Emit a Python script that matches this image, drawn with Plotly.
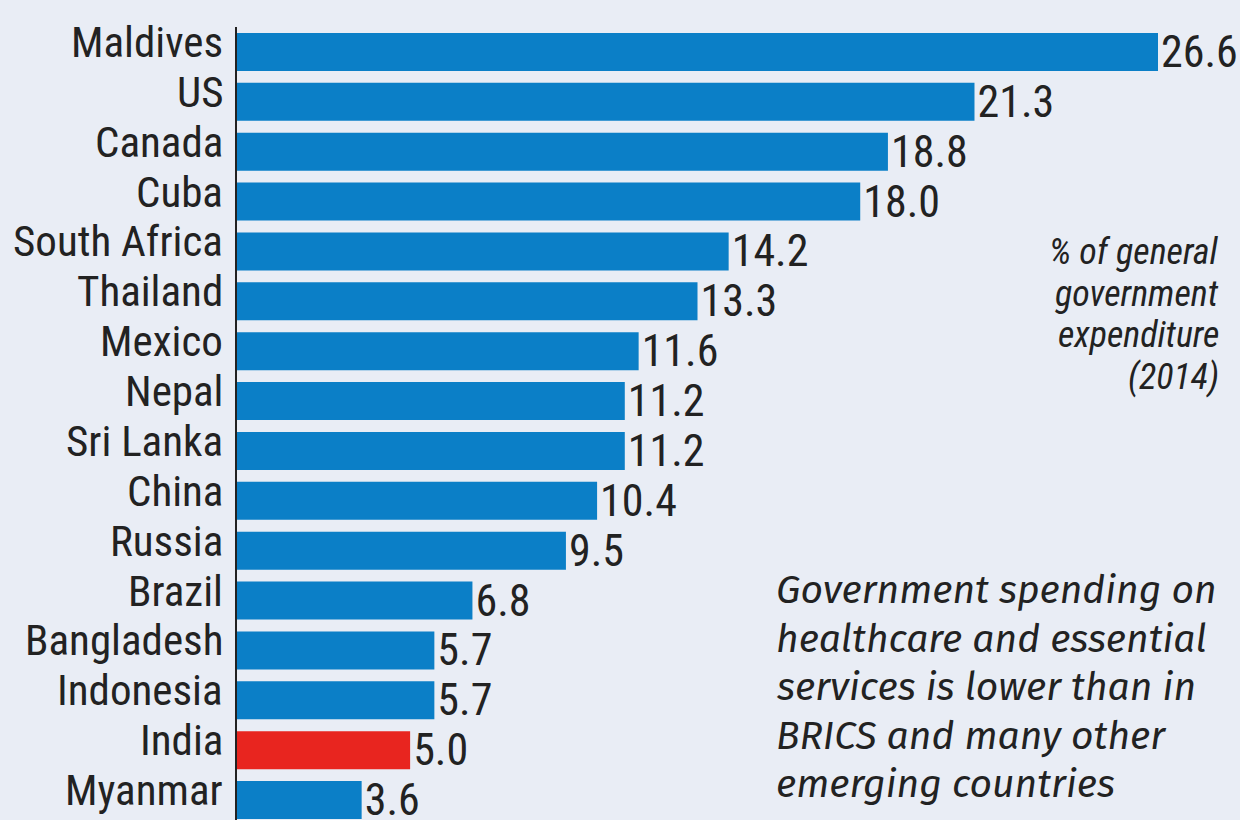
import plotly.graph_objects as go

countries = ["Maldives", "US", "Canada", "Cuba", "South Africa", "Thailand", "Mexico",
             "Nepal", "Sri Lanka", "China", "Russia", "Brazil", "Bangladesh",
             "Indonesia", "India", "Myanmar"]
values = [26.6, 21.3, 18.8, 18.0, 14.2, 13.3, 11.6, 11.2, 11.2, 10.4, 9.5, 6.8, 5.7, 5.7, 5.0, 3.6]
value_labels = ["26.6", "21.3", "18.8", "18.0", "14.2", "13.3", "11.6", "11.2", "11.2",
                "10.4", "9.5", "6.8", "5.7", "5.7", "5.0", "3.6"]
highlight = "India"

note_lines = ["% of general", "government", "expenditure", "(2014)"]
message_lines = ["Government spending on", "healthcare and essential",
                 "services is lower than in", "BRICS and many other",
                 "emerging countries"]

BLUE = "#0b7fc7"
RED = "#e8251f"
BG = "#e9edf5"
TXT = "#222222"
NARROW = "Roboto Condensed, Liberation Sans Narrow, DejaVu Sans Condensed, sans-serif"
ITAL = "Fira Sans, Open Sans, sans-serif"

colors = [RED if c == highlight else BLUE for c in countries]

fig = go.Figure(go.Bar(
    x=values, y=countries, orientation="h",
    marker=dict(color=colors, line=dict(width=0)),
    text=value_labels, textposition="outside",
    textfont=dict(family=NARROW, size=44, color=TXT),
    constraintext="none",
    cliponaxis=False, width=0.76,
))

W, H = 1240, 820
L, T = 237, 27
plot_w, plot_h = W - L, H - T
px_per_unit = (1158 - 237) / 26.6

def px2paper_x(px):
    return (px - L) / plot_w

def px2paper_y(py):
    return 1 - (py - T) / plot_h

annotations = []
# category labels, placed at each category on the y axis
for c in countries:
    annotations.append(dict(
        text=c, xref="x", yref="y", x=0, y=c,
        xanchor="right", yanchor="middle", xshift=-12, yshift=10,
        showarrow=False,
        font=dict(family=NARROW, size=43, color=TXT),
    ))
for i, line in enumerate(note_lines):
    annotations.append(dict(
        text=line, xref="paper", yref="paper",
        x=px2paper_x(1221), y=px2paper_y(252 + i * 41.5),
        xanchor="right", yanchor="middle", showarrow=False,
        font=dict(family=NARROW, size=36, color=TXT, style="italic"),
    ))
for i, line in enumerate(message_lines):
    annotations.append(dict(
        text=line, xref="paper", yref="paper",
        x=px2paper_x(774), y=px2paper_y(590 + i * 48.5),
        xanchor="left", yanchor="middle", showarrow=False,
        font=dict(family=ITAL, size=39, color=TXT, style="italic"),
    ))

fig.update_layout(
    width=W, height=H,
    margin=dict(l=L, r=0, t=T, b=0, pad=0),
    paper_bgcolor=BG, plot_bgcolor=BG,
    showlegend=False,
    annotations=annotations,
    xaxis=dict(range=[0, plot_w / px_per_unit], visible=False, showgrid=False,
               zeroline=False, automargin=False),
    yaxis=dict(
        categoryorder="array", categoryarray=countries,
        range=[15.4, -0.5], showgrid=False, zeroline=False,
        showline=True, linecolor=TXT, linewidth=2,
        ticks="", showticklabels=False, automargin=False,
    ),
)

fig.write_html(
    "out.html",
    config={"displayModeBar": False},
    post_script="document.body.style.margin='0px'; document.body.style.overflow='hidden';",
)
